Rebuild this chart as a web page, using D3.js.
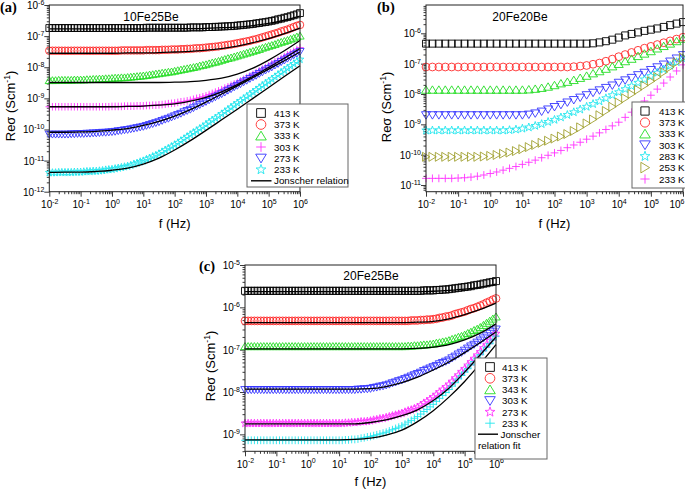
<!DOCTYPE html>
<html><head><meta charset="utf-8">
<script src="https://cdn.jsdelivr.net/npm/d3@7"></script>
<style>
body{margin:0;background:#fff}
svg{display:block}
text{font-family:"Liberation Sans",Arial,sans-serif;fill:#000}
</style></head>
<body><svg width="685" height="490"></svg>
<script>
// ---------- frequency grids (log10 f, Hz) ----------
const logF10 = [-2,-1.9,-1.8,-1.7,-1.6,-1.5,-1.4,-1.3,-1.2,-1.1,-1,-0.9,-0.8,-0.7,-0.6,-0.5,-0.4,-0.3,-0.2,-0.1,0,0.1,0.2,0.3,0.4,0.5,0.6,0.7,0.8,0.9,1,1.1,1.2,1.3,1.4,1.5,1.6,1.7,1.8,1.9,2,2.1,2.2,2.3,2.4,2.5,2.6,2.7,2.8,2.9,3,3.1,3.2,3.3,3.4,3.5,3.6,3.7,3.8,3.9,4,4.1,4.2,4.3,4.4,4.5,4.6,4.7,4.8,4.9,5,5.1,5.2,5.3,5.4,5.5,5.6,5.7,5.8,5.9,6];
const logF5 = [-2,-1.8,-1.6,-1.4,-1.2,-1,-0.8,-0.6,-0.4,-0.2,0,0.2,0.4,0.6,0.8,1,1.2,1.4,1.6,1.8,2,2.2,2.4,2.6,2.8,3,3.2,3.4,3.6,3.8,4,4.2,4.4,4.6,4.8,5,5.2,5.4,5.6,5.8,6];
const logFfit = [-2,-1.5,-1,-0.5,0,0.5,1,1.5,2,2.5,3,3.5,4,4.5,5,5.5,6];

// ---------- panel (a) 10Fe25Be : log10 Re sigma ----------
const a413 = [-6.74,-6.74,-6.74,-6.74,-6.74,-6.74,-6.74,-6.74,-6.74,-6.74,
-6.74,-6.74,-6.74,-6.74,-6.74,-6.74,-6.74,-6.74,-6.74,-6.74,
-6.74,-6.74,-6.74,-6.74,-6.74,-6.74,-6.74,-6.74,-6.74,-6.74,
-6.74,-6.73,-6.73,-6.73,-6.73,-6.73,-6.73,-6.73,-6.73,-6.73,
-6.73,-6.73,-6.73,-6.73,-6.73,-6.72,-6.72,-6.72,-6.72,-6.72,
-6.71,-6.71,-6.71,-6.70,-6.70,-6.69,-6.69,-6.68,-6.68,-6.67,
-6.66,-6.65,-6.64,-6.63,-6.62,-6.61,-6.59,-6.58,-6.56,-6.55,
-6.53,-6.51,-6.49,-6.46,-6.44,-6.41,-6.39,-6.36,-6.33,-6.30,
-6.26];
const a373 = [-7.47,-7.47,-7.47,-7.47,-7.47,-7.47,-7.47,-7.47,-7.47,-7.47,
-7.47,-7.47,-7.47,-7.47,-7.47,-7.47,-7.47,-7.47,-7.47,-7.47,
-7.47,-7.47,-7.47,-7.46,-7.46,-7.46,-7.46,-7.46,-7.46,-7.46,
-7.46,-7.45,-7.45,-7.45,-7.45,-7.45,-7.44,-7.44,-7.44,-7.43,
-7.43,-7.43,-7.42,-7.42,-7.41,-7.41,-7.40,-7.39,-7.39,-7.38,
-7.37,-7.36,-7.35,-7.34,-7.33,-7.31,-7.30,-7.28,-7.27,-7.25,
-7.23,-7.21,-7.19,-7.17,-7.15,-7.12,-7.10,-7.07,-7.04,-7.01,
-6.98,-6.95,-6.92,-6.89,-6.85,-6.82,-6.79,-6.75,-6.71,-6.67,
-6.64];
const a333 = [-8.42,-8.42,-8.42,-8.41,-8.41,-8.41,-8.41,-8.41,-8.40,-8.40,
-8.40,-8.40,-8.39,-8.39,-8.38,-8.38,-8.37,-8.37,-8.36,-8.36,
-8.35,-8.34,-8.34,-8.33,-8.33,-8.32,-8.31,-8.30,-8.29,-8.28,
-8.27,-8.26,-8.24,-8.23,-8.21,-8.20,-8.18,-8.17,-8.15,-8.14,
-8.12,-8.10,-8.08,-8.06,-8.04,-8.02,-8.00,-7.98,-7.95,-7.93,
-7.91,-7.88,-7.85,-7.83,-7.80,-7.77,-7.74,-7.71,-7.69,-7.66,
-7.63,-7.60,-7.57,-7.54,-7.51,-7.48,-7.45,-7.42,-7.38,-7.35,
-7.32,-7.29,-7.26,-7.22,-7.19,-7.16,-7.13,-7.09,-7.06,-7.02,
-6.99];
const a303 = [-9.27,-9.27,-9.27,-9.27,-9.27,-9.27,-9.27,-9.27,-9.27,-9.27,
-9.27,-9.27,-9.27,-9.27,-9.27,-9.27,-9.27,-9.27,-9.27,-9.27,
-9.26,-9.26,-9.26,-9.26,-9.25,-9.25,-9.25,-9.25,-9.24,-9.24,
-9.24,-9.23,-9.23,-9.22,-9.22,-9.21,-9.20,-9.19,-9.17,-9.16,
-9.15,-9.13,-9.11,-9.10,-9.08,-9.06,-9.03,-9.00,-8.98,-8.95,
-8.92,-8.88,-8.84,-8.80,-8.76,-8.72,-8.67,-8.63,-8.58,-8.54,
-8.49,-8.44,-8.39,-8.33,-8.28,-8.23,-8.17,-8.12,-8.06,-8.01,
-7.95,-7.89,-7.83,-7.78,-7.72,-7.66,-7.60,-7.54,-7.49,-7.43,
-7.37];
const a273 = [-10.16,-10.16,-10.16,-10.16,-10.16,-10.16,-10.16,-10.15,-10.15,-10.14,
-10.14,-10.14,-10.13,-10.13,-10.12,-10.12,-10.11,-10.10,-10.10,-10.09,
-10.08,-10.07,-10.05,-10.04,-10.02,-10.01,-9.99,-9.97,-9.95,-9.93,
-9.91,-9.88,-9.85,-9.82,-9.79,-9.76,-9.72,-9.68,-9.65,-9.61,
-9.57,-9.53,-9.49,-9.44,-9.40,-9.36,-9.31,-9.26,-9.21,-9.16,
-9.11,-9.06,-9.01,-8.96,-8.91,-8.86,-8.81,-8.75,-8.70,-8.64,
-8.59,-8.54,-8.48,-8.43,-8.37,-8.32,-8.27,-8.21,-8.16,-8.10,
-8.05,-8.00,-7.94,-7.89,-7.83,-7.78,-7.72,-7.67,-7.61,-7.56,
-7.50];
const a233 = [-11.39,-11.39,-11.39,-11.38,-11.38,-11.38,-11.38,-11.38,-11.37,-11.37,
-11.37,-11.36,-11.35,-11.35,-11.34,-11.34,-11.33,-11.32,-11.30,-11.29,
-11.28,-11.26,-11.24,-11.22,-11.20,-11.18,-11.15,-11.11,-11.08,-11.04,
-11.01,-10.96,-10.92,-10.87,-10.83,-10.78,-10.72,-10.66,-10.61,-10.55,
-10.49,-10.43,-10.36,-10.30,-10.23,-10.17,-10.10,-10.04,-9.97,-9.91,
-9.84,-9.77,-9.70,-9.64,-9.57,-9.50,-9.43,-9.36,-9.29,-9.22,
-9.15,-9.08,-9.01,-8.94,-8.87,-8.80,-8.73,-8.66,-8.59,-8.52,
-8.45,-8.38,-8.31,-8.24,-8.17,-8.10,-8.03,-7.96,-7.89,-7.82,
-7.75];
const a413fit = [-6.77,-6.77,-6.77,-6.77,-6.77,-6.77,-6.77,-6.77,-6.76,-6.76,-6.75,-6.73,-6.71,-6.66,-6.59,-6.49,-6.36];
const a373fit = [-7.55,-7.55,-7.55,-7.55,-7.55,-7.54,-7.54,-7.53,-7.51,-7.49,-7.45,-7.40,-7.32,-7.21,-7.08,-6.92,-6.74];
const a333fit = [-8.49,-8.49,-8.49,-8.49,-8.49,-8.49,-8.49,-8.49,-8.48,-8.46,-8.42,-8.35,-8.22,-8.03,-7.77,-7.47,-7.14];
const a303fit = [-9.27,-9.27,-9.27,-9.27,-9.27,-9.26,-9.25,-9.22,-9.18,-9.09,-8.97,-8.79,-8.56,-8.29,-8.01,-7.71,-7.40];
const a273fit = [-10.09,-10.09,-10.08,-10.06,-10.02,-9.97,-9.87,-9.74,-9.57,-9.36,-9.12,-8.86,-8.60,-8.33,-8.06,-7.79,-7.51];
const a233fit = [-11.38,-11.37,-11.37,-11.35,-11.31,-11.24,-11.11,-10.92,-10.66,-10.36,-10.03,-9.69,-9.35,-9.00,-8.65,-8.30,-7.95];

// ---------- panel (b) 20Fe20Be ----------
const b413 = [-6.34,-6.34,-6.34,-6.34,-6.34,-6.34,-6.34,-6.34,-6.34,-6.34,
-6.34,-6.34,-6.34,-6.34,-6.34,-6.34,-6.34,-6.34,-6.34,-6.34,
-6.34,-6.34,-6.34,-6.34,-6.34,-6.34,-6.33,-6.30,-6.26,-6.21,
-6.14,-6.07,-6.02,-5.97,-5.92,-5.88,-5.84,-5.79,-5.73,-5.68,
-5.63];
const b373 = [-7.11,-7.11,-7.11,-7.11,-7.11,-7.11,-7.11,-7.11,-7.11,-7.11,
-7.11,-7.11,-7.11,-7.11,-7.11,-7.11,-7.11,-7.11,-7.11,-7.11,
-7.11,-7.11,-7.11,-7.10,-7.08,-7.06,-7.02,-6.98,-6.92,-6.85,
-6.77,-6.70,-6.63,-6.56,-6.49,-6.43,-6.37,-6.31,-6.25,-6.19,
-6.13];
const b333 = [-7.86,-7.86,-7.86,-7.86,-7.86,-7.86,-7.86,-7.86,-7.86,-7.86,
-7.86,-7.86,-7.86,-7.86,-7.86,-7.86,-7.85,-7.83,-7.80,-7.76,
-7.71,-7.65,-7.60,-7.54,-7.47,-7.40,-7.32,-7.25,-7.17,-7.09,
-7.01,-6.92,-6.84,-6.75,-6.67,-6.59,-6.50,-6.42,-6.34,-6.26,
-6.18];
const b303 = [-8.70,-8.70,-8.70,-8.70,-8.70,-8.70,-8.70,-8.70,-8.70,-8.70,
-8.70,-8.70,-8.70,-8.70,-8.70,-8.70,-8.68,-8.64,-8.58,-8.51,
-8.43,-8.36,-8.28,-8.20,-8.12,-8.04,-7.96,-7.88,-7.80,-7.72,
-7.63,-7.55,-7.47,-7.38,-7.30,-7.21,-7.12,-7.03,-6.93,-6.83,
-6.72];
const b283 = [-9.20,-9.20,-9.20,-9.20,-9.20,-9.20,-9.20,-9.20,-9.20,-9.20,
-9.20,-9.20,-9.20,-9.19,-9.17,-9.14,-9.10,-9.05,-8.99,-8.92,
-8.85,-8.77,-8.69,-8.60,-8.51,-8.42,-8.33,-8.24,-8.14,-8.04,
-7.94,-7.84,-7.74,-7.63,-7.52,-7.41,-7.30,-7.19,-7.07,-6.95,
-6.83];
const b253 = [-10.07,-10.07,-10.07,-10.07,-10.07,-10.07,-10.07,-10.07,-10.07,-10.06,
-10.04,-10.01,-9.97,-9.93,-9.88,-9.82,-9.75,-9.68,-9.61,-9.54,
-9.47,-9.40,-9.32,-9.22,-9.10,-8.97,-8.84,-8.70,-8.56,-8.42,
-8.28,-8.14,-8.00,-7.86,-7.72,-7.58,-7.44,-7.28,-7.12,-6.96,
-6.80];
const b233 = [-10.78,-10.78,-10.78,-10.78,-10.78,-10.77,-10.76,-10.74,-10.71,-10.67,
-10.62,-10.57,-10.51,-10.45,-10.39,-10.32,-10.25,-10.18,-10.10,-10.02,
-9.94,-9.86,-9.77,-9.68,-9.59,-9.49,-9.39,-9.28,-9.17,-9.05,
-8.93,-8.77,-8.60,-8.42,-8.23,-8.04,-7.84,-7.64,-7.44,-7.24,
-7.04];

// ---------- panel (c) 20Fe25Be ----------
const c413 = [-5.61,-5.61,-5.61,-5.61,-5.61,-5.61,-5.61,-5.61,-5.61,-5.61,
-5.61,-5.61,-5.61,-5.61,-5.61,-5.61,-5.61,-5.61,-5.61,-5.61,
-5.61,-5.61,-5.61,-5.61,-5.61,-5.61,-5.61,-5.61,-5.61,-5.61,
-5.61,-5.61,-5.61,-5.61,-5.61,-5.61,-5.61,-5.61,-5.61,-5.61,
-5.61,-5.61,-5.61,-5.61,-5.61,-5.61,-5.61,-5.61,-5.61,-5.61,
-5.61,-5.61,-5.61,-5.61,-5.61,-5.61,-5.61,-5.60,-5.60,-5.60,
-5.60,-5.59,-5.59,-5.58,-5.58,-5.57,-5.56,-5.55,-5.54,-5.53,
-5.52,-5.51,-5.50,-5.48,-5.47,-5.46,-5.44,-5.43,-5.41,-5.40,
-5.38];
const c373 = [-6.32,-6.32,-6.32,-6.32,-6.32,-6.32,-6.32,-6.32,-6.32,-6.32,
-6.32,-6.32,-6.32,-6.32,-6.32,-6.32,-6.32,-6.32,-6.32,-6.32,
-6.32,-6.32,-6.32,-6.32,-6.32,-6.32,-6.32,-6.32,-6.32,-6.32,
-6.32,-6.32,-6.32,-6.32,-6.32,-6.32,-6.32,-6.32,-6.32,-6.32,
-6.32,-6.32,-6.32,-6.32,-6.32,-6.32,-6.32,-6.32,-6.32,-6.32,
-6.32,-6.32,-6.32,-6.31,-6.31,-6.31,-6.30,-6.30,-6.29,-6.29,
-6.28,-6.27,-6.25,-6.24,-6.22,-6.21,-6.19,-6.16,-6.14,-6.12,
-6.10,-6.07,-6.04,-6.02,-5.99,-5.96,-5.93,-5.89,-5.86,-5.82,
-5.79];
const c343 = [-6.92,-6.92,-6.92,-6.92,-6.92,-6.92,-6.92,-6.92,-6.92,-6.92,
-6.92,-6.92,-6.92,-6.92,-6.92,-6.92,-6.92,-6.92,-6.92,-6.92,
-6.92,-6.92,-6.92,-6.92,-6.92,-6.92,-6.92,-6.92,-6.92,-6.92,
-6.92,-6.92,-6.92,-6.92,-6.92,-6.92,-6.92,-6.92,-6.92,-6.92,
-6.92,-6.92,-6.92,-6.92,-6.92,-6.92,-6.92,-6.92,-6.92,-6.92,
-6.92,-6.92,-6.91,-6.91,-6.90,-6.90,-6.89,-6.88,-6.88,-6.87,
-6.86,-6.84,-6.83,-6.81,-6.80,-6.78,-6.75,-6.73,-6.70,-6.68,
-6.65,-6.61,-6.58,-6.54,-6.51,-6.47,-6.42,-6.37,-6.32,-6.27,
-6.22];
const c303 = [-7.95,-7.95,-7.95,-7.95,-7.95,-7.95,-7.95,-7.95,-7.95,-7.95,
-7.95,-7.95,-7.95,-7.95,-7.95,-7.95,-7.95,-7.95,-7.95,-7.95,
-7.95,-7.95,-7.95,-7.95,-7.95,-7.95,-7.95,-7.95,-7.95,-7.95,
-7.95,-7.95,-7.95,-7.95,-7.95,-7.95,-7.94,-7.94,-7.93,-7.93,
-7.92,-7.90,-7.89,-7.87,-7.86,-7.84,-7.82,-7.79,-7.77,-7.74,
-7.72,-7.69,-7.66,-7.63,-7.60,-7.57,-7.54,-7.50,-7.47,-7.44,
-7.41,-7.38,-7.34,-7.31,-7.28,-7.25,-7.20,-7.16,-7.11,-7.07,
-7.02,-6.97,-6.92,-6.88,-6.83,-6.78,-6.73,-6.68,-6.62,-6.57,
-6.52];
const c273 = [-8.74,-8.74,-8.74,-8.74,-8.74,-8.74,-8.74,-8.74,-8.74,-8.74,
-8.74,-8.74,-8.74,-8.74,-8.74,-8.74,-8.74,-8.74,-8.74,-8.74,
-8.74,-8.74,-8.74,-8.74,-8.74,-8.74,-8.74,-8.74,-8.74,-8.74,
-8.74,-8.74,-8.73,-8.73,-8.72,-8.72,-8.71,-8.70,-8.70,-8.69,
-8.68,-8.66,-8.65,-8.63,-8.62,-8.60,-8.58,-8.56,-8.54,-8.52,
-8.50,-8.47,-8.44,-8.42,-8.39,-8.36,-8.31,-8.26,-8.22,-8.17,
-8.12,-8.06,-8.00,-7.94,-7.88,-7.82,-7.75,-7.67,-7.60,-7.52,
-7.45,-7.37,-7.29,-7.21,-7.13,-7.05,-6.96,-6.88,-6.79,-6.71,
-6.62];
const c233 = [-9.14,-9.14,-9.14,-9.14,-9.14,-9.14,-9.14,-9.14,-9.14,-9.14,
-9.14,-9.14,-9.14,-9.14,-9.14,-9.14,-9.14,-9.14,-9.14,-9.14,
-9.14,-9.14,-9.14,-9.14,-9.14,-9.14,-9.14,-9.14,-9.14,-9.14,
-9.14,-9.14,-9.13,-9.13,-9.12,-9.12,-9.11,-9.09,-9.08,-9.06,
-9.05,-9.03,-9.01,-8.99,-8.97,-8.95,-8.92,-8.89,-8.86,-8.83,
-8.80,-8.76,-8.71,-8.67,-8.62,-8.58,-8.52,-8.46,-8.41,-8.35,
-8.29,-8.22,-8.15,-8.08,-8.01,-7.94,-7.86,-7.78,-7.69,-7.61,
-7.53,-7.45,-7.36,-7.28,-7.20,-7.12,-7.03,-6.94,-6.86,-6.77,
-6.68];
const c413fit = [-5.63,-5.63,-5.63,-5.63,-5.63,-5.63,-5.63,-5.63,-5.63,-5.63,-5.63,-5.63,-5.62,-5.60,-5.57,-5.52,-5.45];
const c373fit = [-6.36,-6.36,-6.36,-6.36,-6.36,-6.36,-6.36,-6.36,-6.36,-6.36,-6.36,-6.35,-6.33,-6.27,-6.17,-6.05,-5.90];
const c343fit = [-6.98,-6.98,-6.98,-6.98,-6.98,-6.98,-6.98,-6.98,-6.98,-6.98,-6.98,-6.97,-6.94,-6.88,-6.77,-6.61,-6.39];
const c303fit = [-7.93,-7.93,-7.93,-7.93,-7.93,-7.93,-7.93,-7.93,-7.92,-7.87,-7.78,-7.65,-7.48,-7.29,-7.07,-6.83,-6.58];
const c273fit = [-8.75,-8.75,-8.75,-8.75,-8.75,-8.75,-8.75,-8.75,-8.72,-8.66,-8.56,-8.42,-8.20,-7.91,-7.53,-7.12,-6.70];
const c233fit = [-9.13,-9.13,-9.13,-9.13,-9.13,-9.13,-9.13,-9.12,-9.09,-9.02,-8.90,-8.70,-8.44,-8.12,-7.75,-7.33,-6.88];

// ---------- labels / ticks ----------
const xTickExps = [-2,-1,0,1,2,3,4,5,6];
const aYExps = [-12,-11,-10,-9,-8,-7,-6];
const bYExps = [-11,-10,-9,-8,-7,-6];
const cYExps = [-9,-8,-7,-6,-5];
const aLabels = ["413 K","373 K","333 K","303 K","273 K","233 K"];
const bLabels = ["413 K","373 K","333 K","303 K","283 K","253 K","233 K"];
const cLabels = ["413 K","373 K","343 K","303 K","273 K","233 K"];

// ---------- styles ----------
const COL = {k:"#000000", r:"#ff2a2a", g:"#22dd22", m:"#ff33ff", b:"#3535ff", c:"#22e6ee", o:"#a0a030"};

function sym(type, s){
  switch(type){
    case "square": return `M${-s},${-s}H${s}V${s}H${-s}Z`;
    case "circle": return `M${s},0A${s},${s} 0 1,1 ${-s},0A${s},${s} 0 1,1 ${s},0Z`;
    case "up": return `M0,${-s}L${s*1.15},${s*0.9}H${-s*1.15}Z`;
    case "down": return `M0,${s}L${s*1.15},${-s*0.9}H${-s*1.15}Z`;
    case "right": return `M${s},0L${-s*0.9},${s*1.15}V${-s*1.15}Z`;
    case "plus": return `M${-s},0H${s}M0,${-s}V${s}`;
    case "star": {
      const p=[];
      for(let i=0;i<10;i++){const r=i%2?s*0.45:s*1.12;const a=-Math.PI/2+i*Math.PI/5;p.push([(r*Math.cos(a)).toFixed(2),(r*Math.sin(a)).toFixed(2)]);}
      return "M"+p.map(d=>d.join(",")).join("L")+"Z";
    }
  }
}

const svg = d3.select("svg");

function panel(cfg){
  const g = svg.append("g");
  const x = d3.scaleLog().domain([1e-2,1e6]).range([cfg.x0,cfg.x1]);
  const y = d3.scaleLog().domain([Math.pow(10,cfg.ymin),Math.pow(10,cfg.ymax)]).range([cfg.y1,cfg.y0]);

  const isPow = v=>Math.abs(Math.log10(v)-Math.round(Math.log10(v)))<1e-9;
  const xt = x.ticks(), xMaj = xt.filter(isPow), xMin = xt.filter(v=>!isPow(v));
  const yt = y.ticks(), yMaj = yt.filter(isPow), yMin = yt.filter(v=>!isPow(v));
  const ax1 = g.append("g").attr("transform",`translate(0,${cfg.y1})`).call(d3.axisBottom(x).tickValues(xMin).tickSize(2.5).tickFormat(""));
  const ax2 = g.append("g").attr("transform",`translate(0,${cfg.y1})`).call(d3.axisBottom(x).tickValues(xMaj).tickSize(5).tickFormat(""));
  const ay1 = g.append("g").attr("transform",`translate(${cfg.x0},0)`).call(d3.axisLeft(y).tickValues(yMin).tickSize(2.5).tickFormat(""));
  const ay2 = g.append("g").attr("transform",`translate(${cfg.x0},0)`).call(d3.axisLeft(y).tickValues(yMaj).tickSize(5).tickFormat(""));
  [ax1,ax2,ay1,ay2].forEach(a=>{a.select(".domain").remove();a.selectAll("line").attr("stroke","#222").attr("stroke-width",0.9);});

  // tick labels
  xTickExps.forEach(e=>{
    const px = x(Math.pow(10,e));
    const edge = px+9 > 685;
    const t=g.append("text").attr("x",edge?684.5:px+0.5).attr("y",cfg.y1+16.5).attr("text-anchor",edge?"end":"middle").attr("font-size",10);
    t.append("tspan").text("10");
    t.append("tspan").attr("dy",-4.5).attr("font-size",7).text(String(e));
  });
  cfg.yExps.forEach(e=>{
    const t=g.append("text").attr("x",cfg.x0-5).attr("y",y(Math.pow(10,e))+4).attr("text-anchor","end").attr("font-size",10);
    t.append("tspan").text("10");
    t.append("tspan").attr("dy",-4).attr("font-size",7).text(String(e));
  });

  // axis titles
  g.append("text").attr("x",(cfg.x0+cfg.x1)/2).attr("y",cfg.xTitleY).attr("text-anchor","middle").attr("font-size",13).text("f (Hz)");
  const yt2 = g.append("text").attr("transform",`translate(${cfg.yTitleX},${cfg.yTitleY}) rotate(-90)`).attr("text-anchor","middle").attr("font-size",13);
  yt2.append("tspan").text("Reσ (Scm");
  yt2.append("tspan").attr("dy",-5).attr("font-size",8.5).text("-1");
  yt2.append("tspan").attr("dy",5).text(")");

  // data markers
  cfg.series.forEach(s=>{
    g.append("g").selectAll("path").data(s.v).join("path")
      .attr("transform",(d,i)=>`translate(${x(Math.pow(10,cfg.f[i])).toFixed(2)},${y(Math.pow(10,d)).toFixed(2)})`)
      .attr("d",sym(s.shape,cfg.ms*(s.k||1)))
      .attr("fill","none").attr("stroke",s.color).attr("stroke-width",0.9);
  });
  // fit lines
  const line = d3.line().x((d,i)=>x(Math.pow(10,logFfit[i]))).y(d=>y(Math.pow(10,d))).curve(d3.curveMonotoneX);
  (cfg.fits||[]).forEach(f=>{
    g.append("path").attr("d",line(f)).attr("fill","none").attr("stroke","#000").attr("stroke-width",1.3);
  });

  // frame
  g.append("rect").attr("x",cfg.x0).attr("y",cfg.y0).attr("width",cfg.x1-cfg.x0).attr("height",cfg.y1-cfg.y0)
    .attr("fill","none").attr("stroke","#222").attr("stroke-width",1);

  // title + panel letter
  g.append("text").attr("x",cfg.titleX).attr("y",cfg.titleY).attr("text-anchor","middle").attr("font-size",12).text(cfg.title);
  g.append("text").attr("x",cfg.letterX).attr("y",cfg.letterY).attr("font-size",14.5).attr("font-weight","bold")
    .style("font-family","'Liberation Serif','Times New Roman',serif").text(cfg.letter);

  // legend
  const L = cfg.legend;
  const lg = svg.append("g");
  lg.append("rect").attr("x",L.x).attr("y",L.y).attr("width",L.w).attr("height",L.h).attr("fill","#fff").attr("stroke","#666").attr("stroke-width",1);
  cfg.series.forEach((s,i)=>{
    const cy = L.rows[i];
    lg.append("path").attr("transform",`translate(${L.sx},${cy})`).attr("d",sym(s.shape,4.6*(s.k||1))).attr("fill","none").attr("stroke",s.color).attr("stroke-width",0.9);
    lg.append("text").attr("x",L.tx).attr("y",cy+3.5).attr("font-size",9.8).text(s.label);
  });
  if(L.fitRow){
    const cy=L.fitRow;
    lg.append("line").attr("x1",L.lx1).attr("x2",L.lx2).attr("y1",cy).attr("y2",cy).attr("stroke","#000").attr("stroke-width",1.4);
    lg.append("text").attr("x",L.lx2+2.5).attr("y",cy+3.5).attr("font-size",9.8).text(L.fitText);
    if(L.fitText2) lg.append("text").attr("x",L.x+3).attr("y",cy+15).attr("font-size",9.8).text(L.fitText2);
  }
}

// panel (a)
panel({
  x0:49.3,x1:300,y0:5,y1:191.7,ymin:-12,ymax:-6,yExps:aYExps,f:logF10,ms:3.6,
  xTitleY:228,yTitleX:15,yTitleY:106,title:"10Fe25Be",titleX:151,titleY:20.5,letter:"(a)",letterX:0,letterY:12,
  series:[
    {v:a413,shape:"square",color:COL.k,label:aLabels[0],k:0.95},
    {v:a373,shape:"circle",color:COL.r,label:aLabels[1],k:1.05},
    {v:a333,shape:"up",color:COL.g,label:aLabels[2]},
    {v:a303,shape:"plus",color:COL.m,label:aLabels[3],k:1.05},
    {v:a273,shape:"down",color:COL.b,label:aLabels[4]},
    {v:a233,shape:"star",color:COL.c,label:aLabels[5]}
  ],
  fits:[a413fit,a373fit,a333fit,a303fit,a273fit,a233fit],
  legend:{x:247,y:104,w:101,h:83,sx:261,tx:274,rows:[113,124.5,135.8,147,158.3,169.6],fitRow:180.8,lx1:251,lx2:271.5,fitText:"Jonscher relation"}
});

// panel (b)
panel({
  x0:426,x1:683,y0:5,y1:191.7,ymin:-11.22,ymax:-5.067,yExps:bYExps,f:logF5,ms:3.9,
  xTitleY:228,yTitleX:391,yTitleY:107,title:"20Fe20Be",titleX:520,titleY:20.5,letter:"(b)",letterX:377,letterY:12,
  series:[
    {v:b413,shape:"square",color:COL.k,label:bLabels[0],k:0.9},
    {v:b373,shape:"circle",color:COL.r,label:bLabels[1]},
    {v:b333,shape:"up",color:COL.g,label:bLabels[2]},
    {v:b303,shape:"down",color:COL.b,label:bLabels[3]},
    {v:b283,shape:"star",color:COL.c,label:bLabels[4]},
    {v:b253,shape:"right",color:COL.o,label:bLabels[5]},
    {v:b233,shape:"plus",color:COL.m,label:bLabels[6]}
  ],
  fits:[],
  legend:{x:632,y:102,w:60,h:86,sx:645,tx:659,rows:[111,122.5,133.8,145,156.3,167.6,179],fitRow:null}
});

// panel (c)
panel({
  x0:245,x1:496,y0:265,y1:451.3,ymin:-9.4,ymax:-5,yExps:cYExps,f:logF10,ms:3.7,
  xTitleY:486,yTitleX:215,yTitleY:366,title:"20Fe25Be",titleX:371,titleY:280,letter:"(c)",letterX:199,letterY:271,
  series:[
    {v:c413,shape:"square",color:COL.k,label:cLabels[0],k:0.95},
    {v:c373,shape:"circle",color:COL.r,label:cLabels[1],k:1.05},
    {v:c343,shape:"up",color:COL.g,label:cLabels[2]},
    {v:c303,shape:"down",color:COL.b,label:cLabels[3]},
    {v:c273,shape:"star",color:COL.m,label:cLabels[4]},
    {v:c233,shape:"plus",color:COL.c,label:cLabels[5],k:1.05}
  ],
  fits:[c413fit,c373fit,c343fit,c303fit,c273fit,c233fit],
  legend:{x:475,y:358,w:72,h:101,sx:490,tx:502,rows:[367,378.3,389.6,400.8,412,423.2],fitRow:434.2,lx1:478,lx2:498,fitText:"Jonscher",fitText2:"relation fit"}
});
</script>
</body></html>
